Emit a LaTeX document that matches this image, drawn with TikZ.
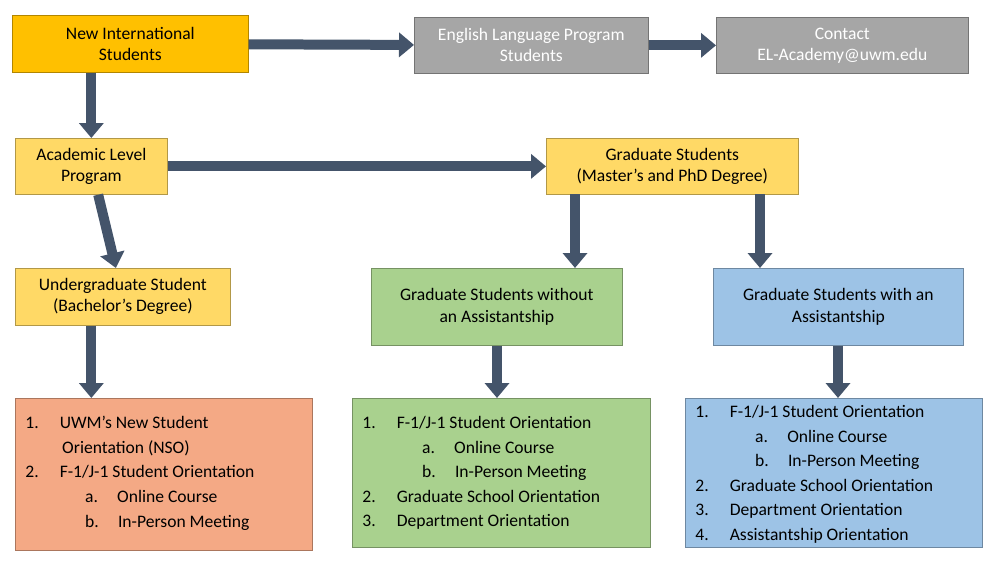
\documentclass[tikz,border=0pt]{standalone}
\usepackage{fontspec}
\setmainfont{Carlito}
\usetikzlibrary{arrows.meta}
\definecolor{arr}{HTML}{44546A}
\definecolor{orng}{HTML}{FFC000}
\definecolor{yel}{HTML}{FFD966}
\definecolor{gry}{HTML}{A6A6A6}
\definecolor{grn}{HTML}{A9D18E}
\definecolor{blu}{HTML}{9DC3E6}
\definecolor{sal}{HTML}{F4A985}
\begin{document}
\begin{tikzpicture}[x=0.02cm, y=-0.02cm, font=\fontsize{10}{12}\selectfont,
  b/.style={draw=#1!70!black, fill=#1, inner sep=0pt, align=center, anchor=north west},
  lst/.style={draw=#1!70!black, fill=#1, inner sep=0pt, anchor=north west},
  ar/.style={draw=arr, line width=0.2cm, -{Triangle[length=0.3cm, width=0.48cm]}}]
\useasboundingbox (0,0) rectangle (1000,566);
\node[b=orng, minimum width=4.72cm, minimum height=1.14cm] (nis) at (12,15) {New International\\Students};
\node[b=gry, text=white, minimum width=4.68cm, minimum height=1.12cm] (elp) at (414,17) {English Language Program\\Students};
\node[b=gry, text=white, minimum width=5.04cm, minimum height=1.12cm] (con) at (716,17) {Contact\\EL-Academy@uwm.edu};
\node[b=yel, minimum width=3.04cm, minimum height=1.12cm] (alp) at (15,138) {Academic Level\\Program};
\node[b=yel, minimum width=5.04cm, minimum height=1.12cm] (grad) at (546,138) {Graduate Students\\(Master’s and PhD Degree)};
\node[b=yel, minimum width=4.3cm, minimum height=1.14cm] (ug) at (15,268) {Undergraduate Student\\(Bachelor’s Degree)};
\node[b=grn, minimum width=5.02cm, minimum height=1.54cm] (gwo) at (371,268) {Graduate Students without\\an Assistantship};
\node[b=blu, minimum width=5.0cm, minimum height=1.54cm] (gw) at (713,268) {Graduate Students with an\\Assistantship};
\node[lst=sal, minimum width=5.94cm, minimum height=3.04cm] (l1) at (15,398) {};
\node[lst=grn, minimum width=5.96cm, minimum height=2.98cm] (l2) at (352,398) {};
\node[lst=blu, minimum width=5.94cm, minimum height=2.98cm] (l3) at (685,398) {};
\node[anchor=north west, align=left, inner sep=0pt, font=\fontsize{10}{14}\selectfont] (t1) at (25,416)
  {1.\hspace{1.2em}UWM’s New Student\\\hspace{2.1em}Orientation (NSO)\\2.\hspace{1.2em}F-1/J-1 Student Orientation\\\hspace{3.4em}a.\hspace{1.1em}Online Course\\\hspace{3.4em}b.\hspace{1.1em}In-Person Meeting};
\node[anchor=north west, align=left, inner sep=0pt, font=\fontsize{10}{14}\selectfont] (t2) at (362,416)
  {1.\hspace{1.2em}F-1/J-1 Student Orientation\\\hspace{3.4em}a.\hspace{1.1em}Online Course\\\hspace{3.4em}b.\hspace{1.1em}In-Person Meeting\\2.\hspace{1.2em}Graduate School Orientation\\3.\hspace{1.2em}Department Orientation};
\node[anchor=north west, align=left, inner sep=0pt, font=\fontsize{10}{14}\selectfont] (t3) at (695,405)
  {1.\hspace{1.2em}F-1/J-1 Student Orientation\\\hspace{3.4em}a.\hspace{1.1em}Online Course\\\hspace{3.4em}b.\hspace{1.1em}In-Person Meeting\\2.\hspace{1.2em}Graduate School Orientation\\3.\hspace{1.2em}Department Orientation\\4.\hspace{1.2em}Assistantship Orientation};
\coordinate (g1) at (575,194);
\coordinate (g2) at (760,194);
\draw[ar] (nis) -- (elp);
\draw[ar] (elp) -- (con);
\draw[ar] (nis.south -| alp) -- (alp);
\draw[ar] (alp) -- (grad);
\draw[ar] (alp) -- (ug);
\draw[ar] (g1) -- (g1 |- gwo.north);
\draw[ar] (g2) -- (g2 |- gw.north);
\draw[ar] (ug.south -| alp) -- (l1.north -| alp);
\draw[ar] (gwo.south -| 497,0) -- (l2.north -| 497,0);
\draw[ar] (gw.south -| 838,0) -- (l3.north -| 838,0);
\end{tikzpicture}
\end{document}
